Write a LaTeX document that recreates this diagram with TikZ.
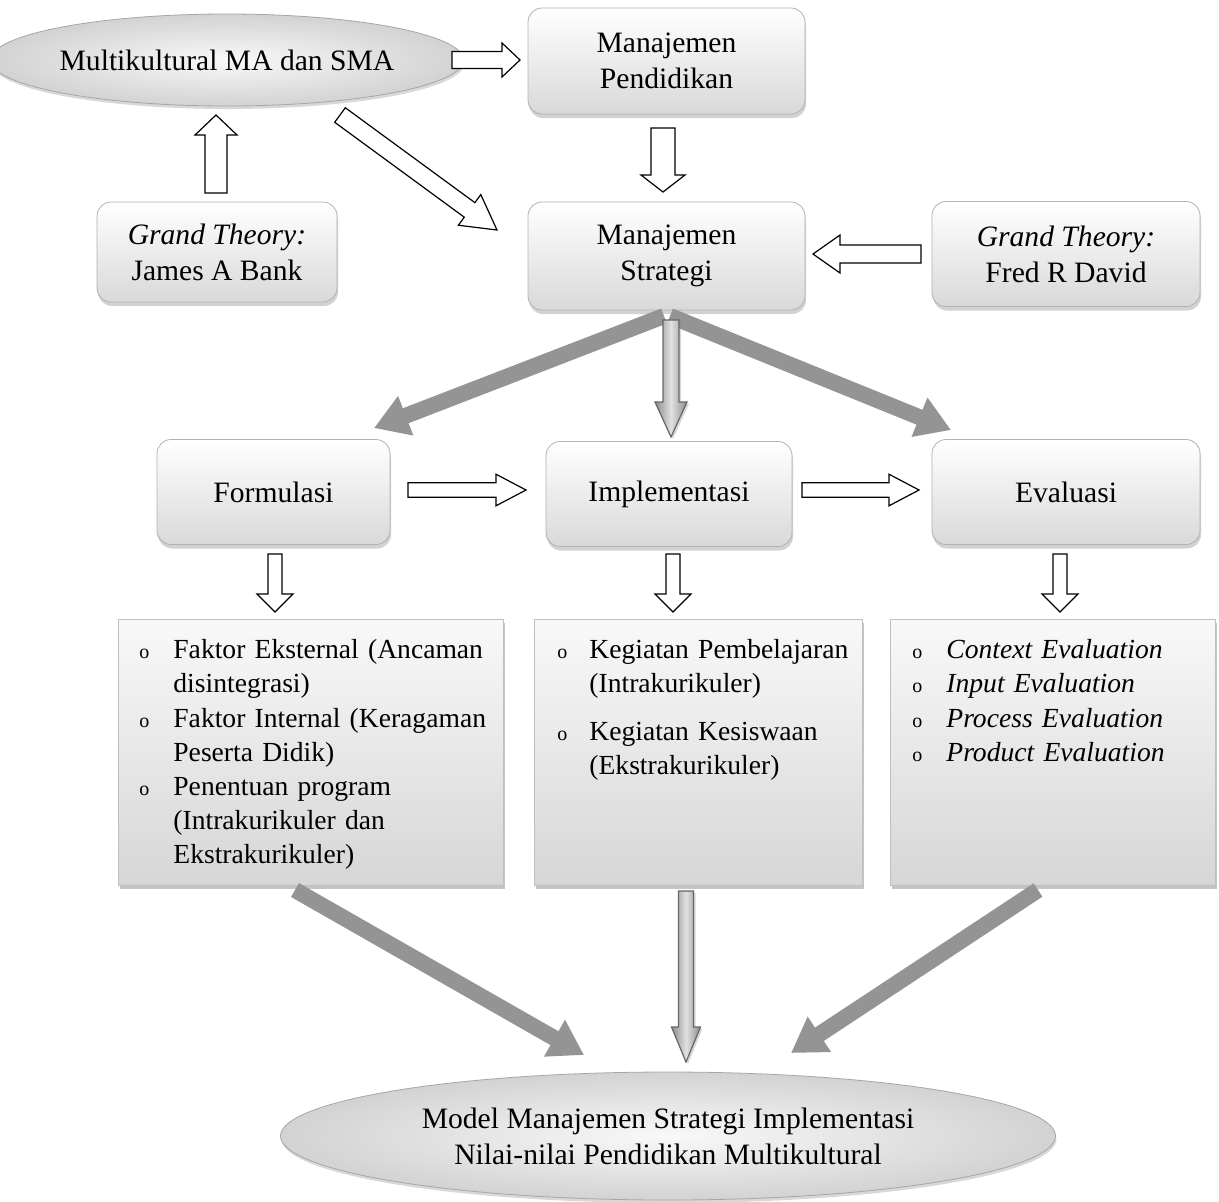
\documentclass[tikz,border=0pt]{standalone}
\usepackage{fontspec}
\setmainfont{Liberation Serif}
\usepackage{enumitem}
\usetikzlibrary{shapes.geometric,shadows,calc,arrows.meta}

\newcommand\hdfont{\fontsize{14.8}{18}\selectfont}
\newcommand\lsfont{\fontsize{13.8}{17.1}\selectfont}
\setlist[itemize]{label={\normalsize o},leftmargin=17pt,labelsep=10pt,labelwidth=7pt,
  align=left,itemsep=0pt,topsep=0pt,parsep=0pt,partopsep=0pt,before=\raggedright}

%% block arrow: style, tail, tip, shaft half, head half, head length (pt)
\newcommand\blockarrow[6]{%
  \coordinate (arrowbase) at ($(#3)!#6pt!(#2)$);
  \draw[#1] ($(#2)!#4pt!90:(#3)$) -- ($(arrowbase)!#4pt!90:(#3)$)
    -- ($(arrowbase)!#5pt!90:(#3)$) -- (#3)
    -- ($(arrowbase)!#5pt!-90:(#3)$) -- ($(arrowbase)!#4pt!-90:(#3)$)
    -- ($(#2)!#4pt!-90:(#3)$) -- cycle;}

\begin{document}
\begin{tikzpicture}
[x=0.5pt,y=-0.5pt,
  boxdecorate/.style={shape=rectangle,rounded corners=7pt,draw=black!30,
    top color=white,bottom color=gray!30,align=center,font=\hdfont,inner sep=0pt,
    drop shadow={shadow xshift=0.5pt,shadow yshift=-2pt,opacity=0.35}},
  listdecorate/.style={shape=rectangle,draw=black!25,top color=gray!5,bottom color=gray!32,
    drop shadow={shadow xshift=1pt,shadow yshift=-2pt,opacity=0.45}},
  elldecorate/.style={shape=ellipse,draw=black!35,inner color=gray!5,outer color=gray!35,
    align=center,font=\hdfont,inner sep=0pt,
    drop shadow={shadow xshift=0.5pt,shadow yshift=-1.5pt,opacity=0.3}},
  textdecorate/.style={anchor=north west,inner sep=0pt,font=\lsfont,align=left},
  hollowdecorate/.style={draw=black,fill=white,line width=0.6pt},
  greydecorate/.style={draw=black!60,left color=black!45,right color=black!45,
    middle color=black!12,line width=0.6pt,
    drop shadow={shadow xshift=1pt,shadow yshift=-1pt,opacity=0.3}},
  linedecorate/.style={line width=8pt,draw=black!42,-{Triangle[width=20pt,length=17pt]}}]
\useasboundingbox[fill=white] (0,0) rectangle (1219,1201);
%% boxes
\foreach \nodename/\x/\y/\w/\h/\txt in {
  pend/666.5/61/138.5/53/{Manajemen\\Pendidikan},
  james/217/252/120/50/{\textit{Grand Theory:}\\James A Bank},
  strat/666.5/256/138.5/54/{Manajemen\\Strategi},
  fred/1066/254/134/52.5/{\textit{Grand Theory:}\\Fred R David},
  form/273.5/492/116.5/52.5/Formulasi,
  impl/669/494/123/52.5/Implementasi,
  eval/1066/492/134/52.5/Evaluasi}
{
  \node (\nodename) at (\x,\y) [boxdecorate,minimum width=\w pt,minimum height=\h pt] {\txt};
}
\node (multi) at (227,60) [elldecorate,minimum width=220pt,minimum height=46pt]
  {Multikultural MA dan SMA};
\node (model) at (668,1136) [elldecorate,minimum width=387.5pt,minimum height=64pt]
  {Model Manajemen Strategi Implementasi\\Nilai-nilai Pendidikan Multikultural};
%% lists
\foreach \nodename/\x/\w in {lform/310.5/192.5, limpl/698/164, leval/1052.5/162.5}
{
  \node (\nodename) at (\x,752) [listdecorate,minimum width=\w pt,minimum height=133pt] {};
}
\node (tform) at (139,624) [textdecorate,text width=180pt] {%
  \begin{itemize}
  \item Faktor Eksternal (Ancaman\\disintegrasi)
  \item Faktor Internal (Keragaman\\Peserta Didik)
  \item Penentuan program\\(Intrakurikuler dan\\Ekstrakurikuler)
  \end{itemize}};
\node (timpl) at (557,624) [textdecorate,text width=160pt] {%
  \begin{itemize}[leftmargin=16pt,labelsep=9pt,itemsep=6.5pt]
  \item Kegiatan Pembelajaran\\(Intrakurikuler)
  \item Kegiatan Kesiswaan\\(Ekstrakurikuler)
  \end{itemize}};
\node (teval) at (912,624) [textdecorate,text width=150pt] {%
  \begin{itemize}
  \item \textit{Context Evaluation}
  \item \textit{Input Evaluation}
  \item \textit{Process Evaluation}
  \item \textit{Product Evaluation}
  \end{itemize}};
%% arrow ends
\foreach \cname/\x/\y in {
  mp1/452/60, mp2/520/60, ps1/663/128, ps2/663/192,
  jm1/216/193, jm2/216/115, ms1/340/115, ms2/497/230,
  fs1/921/254, fs2/813/254, fi1/408/490, fi2/526/490,
  ie1/802/490, ie2/919/490, fl1/275/554, fl2/275/612,
  il1/673/554, il2/673/612, el1/1060/554, el2/1060/612,
  sf1/664/316, sf2/374/428, se1/670/316, se2/951/430,
  si1/671/320, si2/671/437, lm1/295/890, lm2/584/1055,
  em1/1038/890, em2/791/1053, im1/686/891, im2/686/1062}
  \coordinate (\cname) at (\x,\y);
%% hollow arrows
\foreach \tail/\tip/\sh/\hh/\hl in {
  mp1/mp2/4.25/8.5/9, ps1/ps2/6/11/8.5, jm1/jm2/5.5/10.5/10,
  ms1/ms2/4.5/9.5/17, fs1/fs2/4.5/9.5/13.5, fi1/fi2/3.65/7.9/15,
  ie1/ie2/3.65/7.9/15, fl1/fl2/3.5/9/9, il1/il2/3.5/9/9, el1/el2/3.5/9/9}
{
  \blockarrow{hollowdecorate}{\tail}{\tip}{\sh}{\hh}{\hl}
}
%% grey arrows
\foreach \tail/\tip in {sf1/sf2, se1/se2, lm1/lm2, em1/em2}
  \draw[linedecorate] (\tail) -- (\tip);
\blockarrow{greydecorate}{si1}{si2}{4}{8}{17.5}
\blockarrow{greydecorate}{im1}{im2}{3.75}{7.25}{17.5}
\end{tikzpicture}
\end{document}
